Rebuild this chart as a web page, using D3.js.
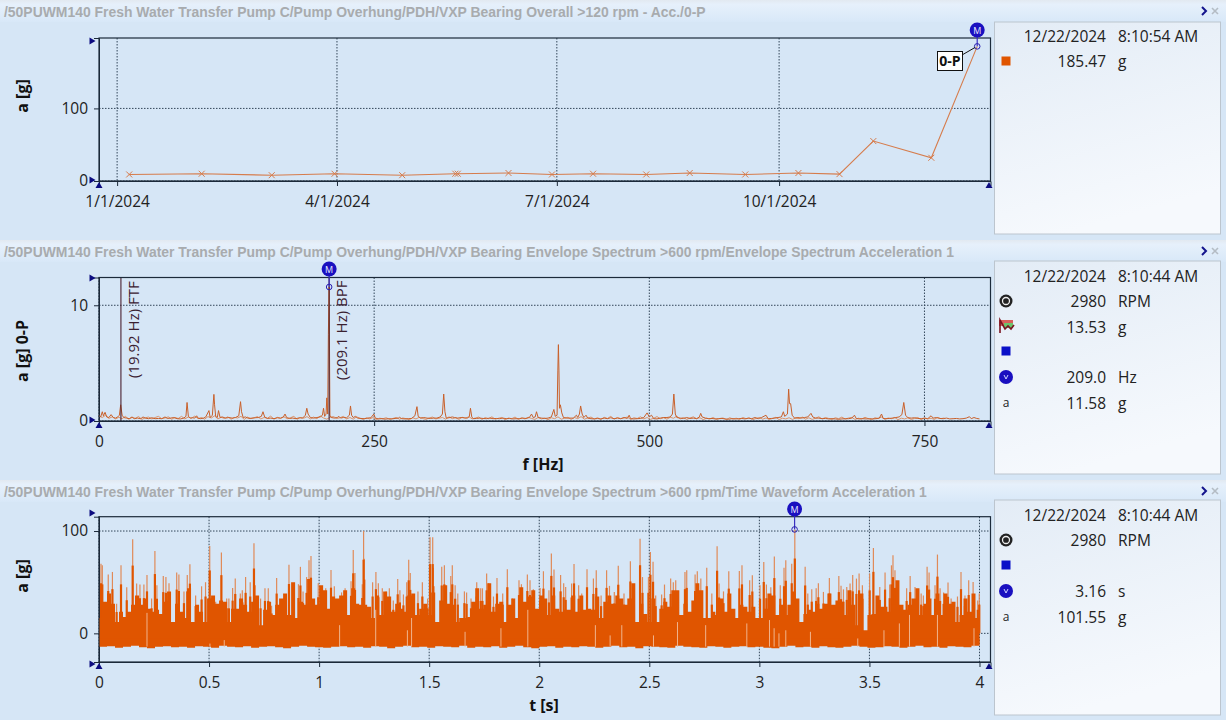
<!DOCTYPE html>
<html>
<head>
<meta charset="utf-8">
<script src="https://cdnjs.cloudflare.com/ajax/libs/d3/7.8.5/d3.min.js"></script>
<style>
  html, body { margin: 0; padding: 0; background: #d6e6f6; overflow: hidden; }
  text { font-family: "Open Sans", sans-serif; }
</style>
</head>
<body>
<svg id="chart" width="1226" height="720"></svg>
<script>
// Trend panel
const trendDates = ['2024-01-06','2024-02-05','2024-03-05','2024-03-31','2024-04-28','2024-05-20','2024-05-21','2024-06-11','2024-06-29','2024-07-16','2024-08-07','2024-08-25','2024-09-17','2024-10-09','2024-10-26','2024-11-09','2024-12-03','2024-12-22'];
const trendValues = [9, 10, 8, 10, 8, 10, 10, 11, 9, 10, 9, 11, 9, 11, 9.5, 55, 32, 185.47];
const trendTickDates = ['2024-01-01','2024-04-01','2024-07-01','2024-10-01'];
const trendTickLabels = ['1/1/2024','4/1/2024','7/1/2024','10/1/2024'];

// Envelope spectrum panel: [Hz, g]
const specPoints = [
[0,.5],[1.5,.35],[3,.8],[4,.45],[5.5,.75],[7,.35],[9,.3],[11,.55],[13,.3],[15,.25],[17,.35],[18.5,.5],[19.7,1.4],[21,.5],[22.5,.3],[25,.25],[27.5,.2],[30,.35],[32,.2],[35,.25],[38,.2],[40,.35],[42,.25],[45,.2],[48,.28],[51,.2],[54,.22],[57,.2],[60,.35],[62,.22],[65,.25],[68,.3],[71,.2],[74,.18],[77,.25],[79,.4],[80,1.6],[81.2,.4],[83,.25],[85,.28],[87,.25],[88.7,.45],[90,.25],[92,.2],[95,.25],[97,.35],[99.9,.9],[101,.3],[103,.5],[104.4,2.3],[105,1.4],[106,.4],[107.5,.3],[108.6,.9],[110,.3],[112,.35],[115,.25],[118,.3],[121,.25],[124,.3],[127,.45],[128.6,1.67],[129.5,.8],[131,.3],[133,.35],[136,.22],[139,.25],[142,.28],[145,.3],[147.5,.4],[149,.8],[150.5,.35],[153,.22],[156,.25],[159,.2],[162,.28],[165,.25],[167.5,.35],[169,.6],[170.5,.3],[173,.22],[176,.25],[179,.2],[182,.28],[185,.25],[187.5,.5],[188.8,1.1],[190,.6],[192,.3],[195,.25],[198,.3],[201,.35],[203,.5],[204,1.1],[205,.4],[206.3,.6],[207,2],[207.8,.6],[208.4,7.5],[209.1,11.58],[209.8,.5],[211,.3],[214,.25],[216.5,.3],[218,.4],[219.5,.25],[222,.3],[225,.28],[227.5,.5],[228.5,1.3],[229.5,.5],[231,.3],[233,.4],[235,.25],[238,.22],[241,.2],[244,.25],[247,.28],[249.7,.6],[251,.25],[254,.18],[257,.2],[260,.16],[263,.2],[266,.18],[269,.22],[272,.25],[273,.32],[275,.2],[278,.18],[281,.2],[284,.22],[287,.45],[288.9,1.24],[290,.4],[292,.25],[295,.3],[298,.25],[301,.22],[304,.25],[307,.25],[310,.35],[312,.6],[313.2,2.33],[314.3,.8],[315.5,.25],[318,.28],[321,.35],[323,.3],[326,.25],[329,.3],[332,.28],[335,.25],[336.5,.4],[337.5,1.1],[338.7,.35],[340,.2],[343,.22],[346,.25],[349,.22],[352,.2],[355,.25],[358,.2],[361,.22],[364,.2],[367,.25],[370,.2],[373,.22],[376,.18],[379,.2],[382,.2],[385,.25],[388,.22],[391,.3],[393,.6],[394.5,.3],[396.3,.35],[397.5,.8],[399,.3],[402,.25],[405,.22],[408,.25],[411,.35],[413.3,1],[414.5,.4],[416.2,.5],[416.9,4.4],[417.4,6.6],[417.9,4.4],[418.4,1.1],[419.2,1.4],[420.5,.7],[422,.3],[425,.25],[428,.25],[431,.25],[433.8,.5],[435,.3],[436.5,.6],[437.6,1.3],[439,.6],[440.5,.3],[442.5,.5],[444,.25],[447,.2],[450,.18],[453,.22],[456,.18],[459,.25],[462,.2],[465,.28],[468,.2],[471,.25],[474,.2],[477,.3],[480,.22],[481.7,.5],[483,.2],[486,.18],[489,.2],[492,.22],[495,.3],[498,.7],[500,.35],[502,.5],[504,.2],[507,.18],[510,.25],[513,.3],[516,.3],[519,.35],[521,.6],[522.3,2.33],[523.6,.6],[525,.3],[528,.25],[531,.22],[534,.3],[537,.22],[540,.25],[543,.2],[545.5,.35],[546.7,.66],[548,.35],[551,.25],[554,.2],[557,.22],[560,.18],[563,.2],[566,.22],[569,.18],[572,.15],[575,.2],[578,.18],[581,.2],[584,.22],[587,.18],[590,.25],[593,.2],[596,.3],[599,.2],[602,.3],[606,.5],[608,.2],[611,.22],[614,.25],[617,.3],[620,.35],[621.8,.8],[623,.4],[625.5,.6],[626.6,2.75],[627.4,1.5],[628.4,1.5],[629.8,.5],[632,.25],[635,.3],[638,.25],[641,.3],[644,.35],[646.9,.66],[648.5,.35],[651,.25],[654,.25],[657,.2],[660,.22],[663,.18],[666,.2],[669,.18],[672,.15],[675,.18],[678,.2],[681,.2],[684,.25],[686.4,.5],[688,.22],[691,.18],[694,.2],[697,.18],[700,.2],[703,.18],[706,.2],[709,.25],[711,.6],[712.5,.22],[715,.2],[718,.22],[721,.25],[724,.3],[727,.35],[729.5,.55],[731.2,1.6],[732.8,.5],[735,.28],[738,.25],[741,.28],[744,.22],[747,.2],[750,.25],[753,.2],[756,.45],[758,.25],[761,.3],[764,.22],[767,.2],[770,.25],[773,.18],[776,.2],[779,.22],[782,.18],[785,.2],[788,.25],[790.9,.37],[792.5,.2],[795,.3],[797.5,.22],[800,.18]
];
// noise floor of the spectrum, one value per 3 Hz
const specFloor = [
.42,.3,.5,.22,.36,.18,.32,.2,.4,.16,.3,.24,.38,.14,.28,.34,.18,.3,.4,.2,.26,.36,.15,.3,.22,.4,.18,.34,.24,.42,.2,.3,.16,.38,.26,.44,.18,.32,.22,.36,
.16,.3,.26,.4,.14,.34,.2,.28,.38,.18,.3,.24,.42,.16,.32,.22,.36,.2,.28,.4,.15,.3,.24,.38,.18,.34,.2,.44,.26,.16,.32,.38,.22,.28,.4,.18,.3,.16,.36,.24,
.14,.26,.18,.3,.12,.24,.2,.28,.14,.22,.3,.16,.26,.2,.12,.28,.18,.32,.22,.14,.26,.34,.18,.24,.3,.16,.36,.2,.28,.14,.32,.22,.38,.18,.26,.34,.14,.3,.2,.36,
.16,.24,.3,.12,.26,.2,.34,.14,.28,.18,.32,.22,.14,.3,.18,.26,.12,.28,.2,.36,.16,.24,.32,.14,.3,.2,.38,.16,.26,.34,.18,.28,.14,.32,.22,.4,.16,.3,.2,.26,
.34,.14,.28,.22,.36,.18,.3,.14,.24,.38,.2,.28,.16,.32,.24,.42,.18,.3,.14,.26,.36,.2,.28,.12,.24,.18,.3,.14,.22,.26,.12,.28,.18,.24,.14,.3,.2,.26,.12,.22,
.3,.16,.26,.14,.22,.32,.12,.24,.18,.28,.14,.26,.2,.34,.16,.28,.14,.24,.36,.18,.3,.22,.14,.28,.2,.34,.16,.26,.3,.14,.24,.18,.32,.2,.12,.28,.22,.34,.14,.26,
.2,.3,.12,.24,.18,.28,.14,.22,.3,.12,.26,.18,.24,.14,.3,.2,.26
];
const specXTicks = [0, 250, 500, 750];

// Time waveform panel: solid body, one value per 4/220 s
const waveBody = [
15,31,39,29,11,21,16,21,28,37,28,34,24,21,23,19,31,41,11,29,21,15,44,11,28,21,11,34,37,29,32,31,11,24,24,34,28,21,31,37,8,23,31,18,
28,34,39,18,50,15,31,28,53,34,28,47,42,24,36,34,37,42,18,44,29,28,28,26,15,37,18,41,36,21,29,24,21,37,39,18,24,29,18,40,11,32,47,29,28,
11,15,15,16,31,44,24,28,49,21,29,31,11,28,34,15,45,31,36,42,24,37,34,18,37,24,21,23,23,37,21,37,23,24,23,36,15,31,37,29,37,34,28,34,49,
11,29,19,11,34,11,24,31,26,42,42,18,29,21,32,49,42,15,15,21,18,34,21,39,24,15,28,26,21,26,15,15,24,39,37,18,28,18,28,41,34,11,19,23,21,
29,24,29,39,28,32,31,18,42,28,8,39,3,18,19,37,26,26,21,28,52,28,23,28,34,44,18,29,34,18,39,18,39,29,31,11,18,34,21,39,15,37
];
// lower edge of the waveform, one value per 4/110 s
const waveLow = [
-13,-12.5,-14,-13,-12,-13.5,-14.5,-13,-12.5,-13.5,-13,-14,-12.5,-13,-14,-12,-13,-13.5,-12.5,-14,-13,-12.5,-13.5,-14.5,-13,-12,-13,-13.5,-14,-13,-12.5,-13.5,-13,-14,-12.5,-13,-14.5,-13,-12,-13.5,-13,-14,-12.5,-13,-13.5,-12,-14,-13,-13.5,-12.5,-14,-13,-12,-13.5,-14.5,-13,-12.5,-14,-13,-13.5,-12.5,-13,-14,-13,-12,-13.5,-13,-14.5,-12.5,-13,-13.5,-14,-12,-13,-13.5,-14,-12.5,-13,-14,-13,-12.5,-13.5,-13,-14,-14.5,-13,-12,-13.5,-13,-14,-12.5,-13.5,-14,-13,-12,-13,-14,-13.5,-12.5,-13,-14,-13,-12,-13.5,-13,-14,-12.5,-13,-13.5,-12,-13
];
// thin peaks above the body: [s, g]
const waveSpikes = [
[.009,68],[.015,66.5],[.042,57.5],[.061,60],[.080,29],[.100,66.5],[.126,45],[.153,92],[.171,48.7],[.186,47.7],[.204,47.7],[.218,57],[.239,34],[.254,80.5],[.263,47],[.292,56],[.304,55],[.318,49],[.353,59.4],[.363,57.5],[.386,41],[.401,57],[.413,67.5],[.439,37],[.466,46],[.484,50],[.503,85.4],[.530,31],[.556,79],[.580,34],[.590,34],[.607,44.4],[.619,53.5],[.642,39],[.651,42],[.666,55],[.687,50],[.704,88],[.710,47],[.734,34],[.754,44],[.769,44],[.784,27],
[.807,54],[.863,67],[.906,48],[.915,65],[.927,41],[.943,55],[.954,71.4],[.963,75.6],[.996,49],[1.012,46],[1.030,44],[1.054,62],[1.069,46],[1.102,40],[1.118,44],[1.145,51],[1.155,81.5],[1.163,59],[1.196,48],[1.202,100],[1.205,73],[1.243,50],[1.258,60],[1.269,49],[1.287,44],[1.304,41],[1.319,44],[1.337,32],[1.357,53],[1.367,42],[1.383,38],[1.398,50],[1.407,72],[1.414,59],[1.449,41],[1.469,50],[1.493,34],[1.504,94],[1.516,94],[1.519,64],[1.557,65],[1.569,66.5],[1.598,56],[1.605,66.5],
[1.618,47],[1.630,39],[1.660,41],[1.670,40],[1.690,34],[1.716,50],[1.734,44],[1.742,44],[1.761,58.4],[1.770,49],[1.792,36],[1.808,54],[1.834,39],[1.855,62.6],[1.878,34],[1.908,52],[1.919,48],[1.946,57.5],[1.958,52],[1.973,43],[2.004,44.4],[2.019,60.7],[2.044,42],[2.055,78],[2.067,62.3],[2.097,57],[2.111,49],[2.120,45.4],[2.147,48.7],[2.158,67.8],[2.179,47],[2.193,39],[2.217,62.6],[2.246,53.5],[2.259,61.7],[2.281,37],[2.306,61.7],[2.319,46.4],[2.341,40.5],[2.359,66],[2.385,39],[2.414,70.4],
[2.458,92.5],[2.469,55],[2.496,55],[2.505,79.5],[2.517,70],[2.529,37],[2.556,38],[2.569,47.7],[2.597,53.5],[2.609,50],[2.620,52],[2.662,60],[2.670,61.7],[2.708,57.5],[2.718,60.7],[2.734,53.5],[2.761,64],[2.784,39],[2.808,85],[2.817,48.7],[2.837,41],[2.861,60.7],[2.909,61],[2.921,66.5],[2.956,52],[2.968,56.8],[3.003,47],[3.020,69.8],[3.032,47.7],[3.052,45],[3.068,75],[3.095,47],[3.112,64],[3.120,71.4],[3.147,68],[3.161,101.55],[3.208,65],[3.220,39],[3.238,43],
[3.258,44],[3.268,49],[3.291,40.5],[3.318,54],[3.361,56],[3.371,46.4],[3.382,43],[3.397,45.4],[3.412,48.7],[3.424,57],[3.441,53.5],[3.453,58.4],[3.468,47],[3.501,58.4],[3.518,83.5],[3.547,45.4],[3.571,59.4],[3.592,47.7],[3.600,66.5],[3.607,76.3],[3.616,61.7],[3.629,34],[3.669,44],[3.685,56],[3.707,45.4],[3.735,39],[3.745,37],[3.762,65],[3.771,59.4],[3.798,47],[3.809,77],[3.821,44],[3.837,40],[3.857,49.6],[3.871,34],[3.900,36],[3.916,60],[3.934,37],[3.951,52],[3.971,50.3],[3.992,32],[3.999,39]
];
// pale gaps inside the body: [s, top of the gap in g]
const waveGaps = [
[.218,20],[.504,-10],[.569,-6.6],[1.093,8],[1.257,23],[1.401,3],[1.420,15],[1.663,1.5],[1.826,5],[1.948,23],[2.255,8],[2.322,-2],[2.375,8],[2.519,-2],[2.628,11],[2.756,8],[2.943,9.7],[3.046,13],[3.067,5],[3.089,0],[3.120,3],[3.232,1.5],[3.447,-5],[3.566,3],[3.636,9.7],[3.682,18],[3.809,18],[3.975,5]
];
const waveXTicks = [0, .5, 1, 1.5, 2, 2.5, 3, 3.5, 4];

// Texts
const panelTitles = [
  '/50PUWM140 Fresh Water Transfer Pump C/Pump Overhung/PDH/VXP Bearing Overall >120 rpm - Acc./0-P',
  '/50PUWM140 Fresh Water Transfer Pump C/Pump Overhung/PDH/VXP Bearing Envelope Spectrum >600 rpm/Envelope Spectrum Acceleration 1',
  '/50PUWM140 Fresh Water Transfer Pump C/Pump Overhung/PDH/VXP Bearing Envelope Spectrum >600 rpm/Time Waveform Acceleration 1'
];
const legendDates = ['12/22/2024', '12/22/2024', '12/22/2024'];
const legendTimes = ['8:10:54 AM', '8:10:44 AM', '8:10:44 AM'];
const legendIcons = [['orange'], ['rpm','spec','blue','cursor','a'], ['rpm','blue','cursor','a']];
const legendValues = [['185.47'], ['2980','13.53','','209.0','11.58'], ['2980','','3.16','101.55']];
const legendUnits = [['g'], ['RPM','g','','Hz','g'], ['RPM','','s','g']];

const orange = '#e05500', navy = '#1a10c0', gridCol = '#33475a';
const svg = d3.select('#chart');

const defs = svg.append('defs');
const barGrad = defs.append('linearGradient').attr('id', 'barGrad').attr('x1', 0).attr('x2', 0).attr('y1', 0).attr('y2', 1);
barGrad.append('stop').attr('offset', 0).attr('stop-color', '#e2e9f0');
barGrad.append('stop').attr('offset', .2).attr('stop-color', '#e6f0fb');
barGrad.append('stop').attr('offset', 1).attr('stop-color', '#d8e8f8');
const boxGrad = defs.append('linearGradient').attr('id', 'boxGrad').attr('x1', 0).attr('x2', 0.3).attr('y1', 0).attr('y2', 1);
boxGrad.append('stop').attr('offset', 0).attr('stop-color', '#e3ecf6');
boxGrad.append('stop').attr('offset', 1).attr('stop-color', '#f6f9fd');

// Panel frame, title, legend box, axes and grid. Marks are added by the caller
function drawPanel(i, top, plotTop, plotBottom, x, y, xTickVals, xFmt, yTickVals, yLabel, yLabelCy, xLabel, xLabelCx, xLabelY, boxTop, boxBottom, rowYs) {
  svg.append('rect').attr('x', 0).attr('y', top).attr('width', 1226).attr('height', 22).attr('fill', 'url(#barGrad)');
  svg.append('text').attr('x', 4).attr('y', top + 17).text(panelTitles[i])
    .style('font-family', '"Liberation Sans", sans-serif').style('font-size', '13.93px').style('font-weight', 'bold').attr('fill', '#a8abae');

  // chevron and close cross
  svg.append('path').attr('d', `M${1202} ${top + 7} l4 4 l-4 4`).attr('fill', 'none').attr('stroke', '#14148c').attr('stroke-width', 2);
  svg.append('path').attr('d', `M${1212} ${top + 8} l6 6 m0 -6 l-6 6`).attr('fill', 'none').attr('stroke', '#b4bcc4').attr('stroke-width', 1.6);

  const left = x.range()[0], right = x.range()[1];

  // grid
  svg.append('g').selectAll('line').data(xTickVals).enter().append('line')
    .attr('x1', d => x(d)).attr('x2', d => x(d)).attr('y1', plotTop).attr('y2', plotBottom)
    .attr('stroke', gridCol).attr('stroke-width', 1).attr('stroke-dasharray', '1.5,1.5');
  svg.append('g').selectAll('line').data(yTickVals).enter().append('line')
    .attr('x1', left).attr('x2', right).attr('y1', d => y(d)).attr('y2', d => y(d))
    .attr('stroke', gridCol).attr('stroke-width', 1).attr('stroke-dasharray', '1.5,1.5');

  // axes
  const xAxis = d3.axisBottom(x).tickValues(xTickVals).tickFormat(xFmt).tickSizeOuter(0).tickSize(5).tickPadding(10);
  const yAxis = d3.axisLeft(y).tickValues(yTickVals).tickSizeOuter(0).tickSize(5).tickPadding(6);
  const gx = svg.append('g').attr('class', 'frame').attr('transform', `translate(0,${plotBottom})`).call(xAxis);
  const gy = svg.append('g').attr('class', 'frame').attr('transform', `translate(${left},0)`).call(yAxis);
  [gx, gy].forEach(g => {
    g.selectAll('text').style('font-size', '15.5px').style('font-family', '"Open Sans", sans-serif').attr('fill', '#222');
    g.selectAll('.domain').attr('stroke', '#1c2a3a');
    g.selectAll('.tick line').attr('stroke', '#1c2a3a');
  });

  // axis names
  svg.append('text').attr('transform', `translate(28,${yLabelCy}) rotate(-90)`).attr('text-anchor', 'middle').text(yLabel)
    .style('font-size', '16px').style('font-weight', 'bold').attr('fill', '#111');
  if (xLabel) {
    svg.append('text').attr('x', xLabelCx).attr('y', xLabelY).attr('text-anchor', 'middle').text(xLabel)
      .style('font-size', '16px').style('font-weight', 'bold').attr('fill', '#111');
  }

  // legend box
  svg.append('rect').attr('x', 994.5).attr('y', boxTop).attr('width', 226).attr('height', boxBottom - boxTop)
    .attr('fill', 'url(#boxGrad)').attr('stroke', '#bcc5ce');
  svg.append('text').attr('x', 1106).attr('y', rowYs[0] + 6).attr('text-anchor', 'end').text(legendDates[i]).style('font-size', '15.5px').attr('fill', '#222');
  svg.append('text').attr('x', 1118).attr('y', rowYs[0] + 6).text(legendTimes[i]).style('font-size', '15.5px').attr('fill', '#222');
  legendIcons[i].forEach((ic, r) => {
    const cy = rowYs[r + 1];
    drawIcon(ic, 1006, cy);
    svg.append('text').attr('x', 1106).attr('y', cy + 6).attr('text-anchor', 'end').text(legendValues[i][r]).style('font-size', '15.5px').attr('fill', '#222');
    svg.append('text').attr('x', 1118).attr('y', cy + 6).text(legendUnits[i][r]).style('font-size', '15.5px').attr('fill', '#222');
  });
}

function drawIcon(kind, cx, cy) {
  if (kind === 'orange' || kind === 'blue') {
    svg.append('rect').attr('x', cx - 4.5).attr('y', cy - 4.5).attr('width', 9).attr('height', 9)
      .attr('fill', kind === 'orange' ? orange : '#0a10c8');
  } else if (kind === 'rpm') {
    svg.append('circle').attr('cx', cx).attr('cy', cy).attr('r', 6.5).attr('fill', '#222');
    svg.append('circle').attr('cx', cx).attr('cy', cy).attr('r', 3.5).attr('fill', 'none').attr('stroke', '#eee').attr('stroke-width', 1.3);
  } else if (kind === 'spec') {
    svg.append('rect').attr('x', cx - 7).attr('y', cy - 7).attr('width', 14).attr('height', 6).attr('fill', '#d9605a');
    svg.append('rect').attr('x', cx - 2).attr('y', cy - 4).attr('width', 9).attr('height', 5).attr('fill', '#6cc46c');
    svg.append('path').attr('d', `M${cx - 6} ${cy + 6} v-13 l5 9 l3 -3 l3 3 l3 -4`).attr('fill', 'none').attr('stroke', '#7a1420').attr('stroke-width', 1.6);
  } else if (kind === 'cursor') {
    svg.append('circle').attr('cx', cx).attr('cy', cy).attr('r', 7).attr('fill', navy);
    svg.append('path').attr('d', `M${cx - 2} ${cy - 2} l2 4 l2 -4`).attr('fill', 'none').attr('stroke', '#cfd4ff').attr('stroke-width', 1);
  } else if (kind === 'a') {
    svg.append('text').attr('x', cx).attr('y', cy + 4).attr('text-anchor', 'middle').text('a').style('font-size', '12px').attr('fill', '#222');
  }
}

// navy range handles beside the axes
function drawHandles(x, yA, yB, plotBottom) {
  const left = x.range()[0], right = x.range()[1];
  [yA, yB].forEach(py => svg.append('path').attr('d', `M${left - 9.5} ${py - 3.5} l6 3.5 l-6 3.5 z`).attr('fill', '#0c0c80'));
  [left, right - 1.5].forEach(px => svg.append('path').attr('d', `M${px - 3.5} ${plotBottom + 7} l3.5 -6 l3.5 6 z`).attr('fill', '#0c0c80'));
}

function drawCursor(px, top, py) {
  svg.append('line').attr('x1', px).attr('x2', px).attr('y1', top).attr('y2', py).attr('stroke', '#3a30c0').attr('stroke-width', 1.2);
  svg.append('circle').attr('cx', px).attr('cy', py).attr('r', 2.8).attr('fill', 'none').attr('stroke', '#2a20b0');
  svg.append('circle').attr('cx', px).attr('cy', top).attr('r', 7.5).attr('fill', navy);
  svg.append('text').attr('x', px).attr('y', top + 3.5).attr('text-anchor', 'middle').text('M').style('font-size', '9px').attr('fill', '#e8e8ff');
}

function closeFrame(x, plotTop, plotBottom) {
  const left = x.range()[0], right = x.range()[1];
  svg.append('rect').attr('x', left).attr('y', plotTop).attr('width', right - left).attr('height', plotBottom - plotTop)
    .attr('fill', 'none').attr('stroke', '#1c2a3a').attr('stroke-width', 1.2);
}

// ---------- Trend ----------
const parse = d3.utcParse('%Y-%m-%d');
const xTrend = d3.scaleUtc().domain([new Date(Date.UTC(2023, 11, 24, 12)), new Date(Date.UTC(2024, 11, 27, 12))]).range([99, 990.5]);
const yTrend = d3.scaleLinear().domain([0, 197]).range([181, 38]);
const trendTicks = trendTickDates.map(parse);
drawPanel(0, 0, 38, 181, xTrend, yTrend, trendTicks, (d, i) => trendTickLabels[i], [0, 100], 'a [g]', 96, null, 0, 0, 22, 234, [36, 61]);
svg.append('path').datum(trendValues)
  .attr('d', d3.line().x((d, i) => xTrend(parse(trendDates[i]))).y(d => yTrend(d)))
  .attr('fill', 'none').attr('stroke', '#d67c4c').attr('stroke-width', 1.1);
svg.append('g').selectAll('path').data(trendValues.slice(0, -1)).enter().append('path')
  .attr('transform', (d, i) => `translate(${xTrend(parse(trendDates[i]))},${yTrend(d)})`)
  .attr('d', 'M-3 -3 L3 3 M-3 3 L3 -3').attr('stroke', '#d67c4c').attr('fill', 'none');
closeFrame(xTrend, 38, 181);
drawHandles(xTrend, 41, 180, 181);
const trendLast = trendValues.length - 1;
const cx0 = xTrend(parse(trendDates[trendLast])), cy0 = yTrend(trendValues[trendLast]);
drawCursor(cx0, 30, cy0);
svg.append('line').attr('x1', 962).attr('y1', 55).attr('x2', cx0 - 2).attr('y2', cy0 + 1).attr('stroke', '#111');
svg.append('rect').attr('x', 937.5).attr('y', 51.5).attr('width', 25).attr('height', 19).attr('fill', '#fff').attr('stroke', '#111');
svg.append('text').attr('x', 950).attr('y', 66).attr('text-anchor', 'middle').text('0-P').style('font-size', '14px').style('font-weight', 'bold').attr('fill', '#111');

// ---------- Envelope spectrum ----------
const xSpec = d3.scaleLinear().domain([0, 810]).range([99, 990.5]);
const ySpec = d3.scaleLinear().domain([0, 12.4]).range([421, 277.5]);
drawPanel(1, 240, 277.5, 421, xSpec, ySpec, specXTicks, d => d, [0, 10], 'a [g] 0-P', 351, 'f [Hz]', 543, 470, 261, 474, [275.5, 301, 327, 351, 377, 403]);
svg.append('path').datum(specFloor)
  .attr('d', d3.line().x((d, i) => xSpec(i * 3)).y(d => ySpec(d)))
  .attr('fill', 'none').attr('stroke', '#dc9268').attr('stroke-width', 1);
svg.append('path').datum(specPoints)
  .attr('d', d3.line().x(d => xSpec(d[0])).y(d => ySpec(d[1])))
  .attr('fill', 'none').attr('stroke', '#c9602a').attr('stroke-width', 1);
const ftfHz = 19.92, bpfHz = 209.1;
[[ftfHz, '(19.92 Hz) FTF', 378], [bpfHz, '(209.1 Hz) BPF', 380]].forEach(m => {
  svg.append('line').attr('x1', xSpec(m[0])).attr('x2', xSpec(m[0])).attr('y1', 277.5).attr('y2', 421).attr('stroke', '#4a2030').attr('stroke-width', 1.1);
  svg.append('text').attr('transform', `translate(${xSpec(m[0]) + 18},${m[2]}) rotate(-90)`).text(m[1]).style('font-size', '15px').attr('fill', '#3a2030');
});
closeFrame(xSpec, 277.5, 421);
drawHandles(xSpec, 278, 420, 421);
drawCursor(xSpec(bpfHz), 269, ySpec(11.58));

// ---------- Time waveform ----------
const xWave = d3.scaleLinear().domain([0, 4.05]).range([99, 990.5]);
const yWave = d3.scaleLinear().domain([-28, 114]).range([662, 516.7]);
drawPanel(2, 480, 516.7, 662, xWave, yWave, waveXTicks, d => d, [0, 100], 'a [g]', 576, 't [s]', 544, 711, 500, 715, [515, 540, 565, 591, 617]);
// spikes: pale tip over the whole height, solid lower part
svg.append('g').selectAll('line').data(waveSpikes).enter().append('line')
  .attr('x1', d => xWave(d[0])).attr('x2', d => xWave(d[0])).attr('y1', yWave(0)).attr('y2', d => yWave(d[1]))
  .attr('stroke', '#e08a58').attr('stroke-width', 1.2);
svg.append('g').selectAll('line').data(waveSpikes).enter().append('line')
  .attr('x1', d => xWave(d[0])).attr('x2', d => xWave(d[0])).attr('y1', yWave(0)).attr('y2', d => yWave(d[1] * .72))
  .attr('stroke', orange).attr('stroke-width', 2.2);
svg.append('path').datum(waveBody)
  .attr('d', d3.area().curve(d3.curveStepAfter).x((d, i) => xWave(i * 4 / 220)).y0(yWave(-11)).y1(d => yWave(d)))
  .attr('fill', orange);
svg.append('path').datum(waveLow)
  .attr('d', d3.area().curve(d3.curveStepAfter).x((d, i) => xWave(i * 4 / 110)).y0(yWave(-5)).y1(d => yWave(d)))
  .attr('fill', orange);
svg.append('g').selectAll('line').data(waveGaps).enter().append('line')
  .attr('x1', d => xWave(d[0])).attr('x2', d => xWave(d[0])).attr('y1', yWave(-13)).attr('y2', d => yWave(d[1]))
  .attr('stroke', '#f0b48c').attr('stroke-width', 1);
closeFrame(xWave, 516.7, 662);
drawHandles(xWave, 513, 664, 662);
drawCursor(xWave(3.16), 509, yWave(101.55));
</script>
</body>
</html>
